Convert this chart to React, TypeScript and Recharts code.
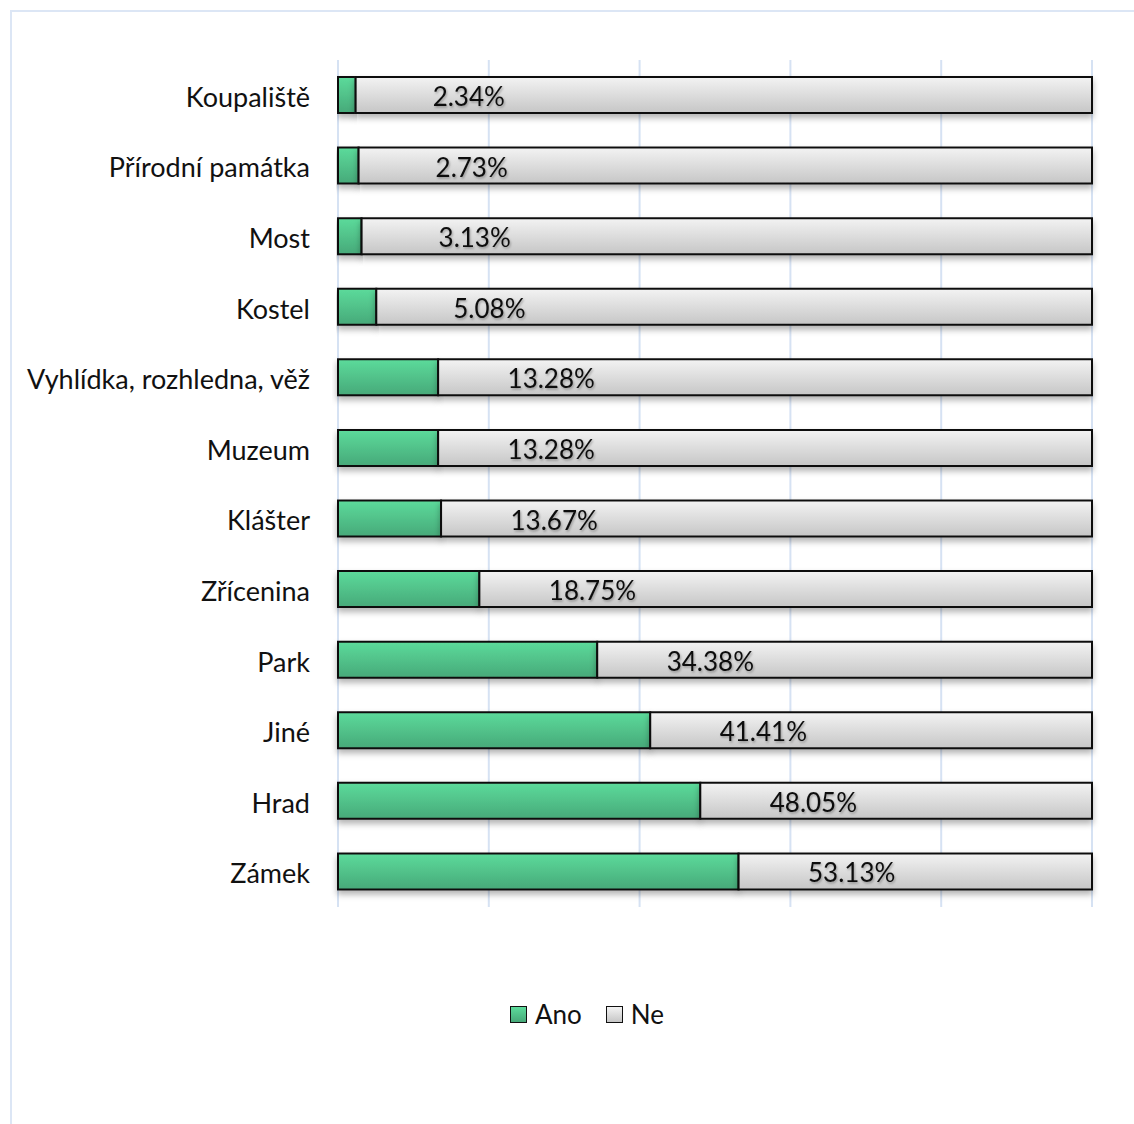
import { BarChart, Bar, XAxis, YAxis, CartesianGrid, LabelList } from 'recharts'

const categories = [
  'Koupaliště',
  'Přírodní památka',
  'Most',
  'Kostel',
  'Vyhlídka, rozhledna, věž',
  'Muzeum',
  'Klášter',
  'Zřícenina',
  'Park',
  'Jiné',
  'Hrad',
  'Zámek',
]
const ano = [2.34, 2.73, 3.13, 5.08, 13.28, 13.28, 13.67, 18.75, 34.38, 41.41, 48.05, 53.13]
const ne = [97.66, 97.27, 96.87, 94.92, 86.72, 86.72, 86.33, 81.25, 65.62, 58.59, 51.95, 46.87]
const xTicks = [0, 20, 40, 60, 80, 100]

const FONT = 'Lato, "Open Sans", sans-serif'

const chartData = categories.map((name, i) => ({ name, ano: ano[i], ne: ne[i] }))

// label sits a bit to the right of the green segment, like in the original
const PctLabel = (props: any) => {
  const { x, y, width, height, value } = props
  if (!value) return null
  const full = (width * 100) / value
  const cx = x + width + full * 0.15
  return (
    <text
      x={cx}
      y={y + height / 2 + 11}
      textAnchor="middle"
      fontSize={26}
      fontFamily={FONT}
      fill="#111"
      filter="url(#txtShadow)"
    >
      {value.toFixed(2)}%
    </text>
  )
}

const swatch = (bg: string) => (
  <span
    style={{
      width: 15,
      height: 15,
      border: '1.5px solid #111',
      background: bg,
      marginRight: 8,
    }}
  />
)

export default function App() {
  return (
    <div style={{ position: 'absolute', left: 0, top: 0, width: 1134, height: 1124, background: '#fff', overflow: 'hidden' }}>
      <div
        style={{
          position: 'absolute',
          left: 10,
          top: 10,
          width: 1200,
          height: 1200,
          borderLeft: '2px solid #dce6f5',
          borderTop: '2px solid #dce6f5',
        }}
      />
      <BarChart
        width={1134}
        height={1124}
        data={chartData}
        layout="vertical"
        margin={{ top: 60, right: 42, bottom: 217, left: 0 }}
        barSize={36}
        style={{ position: 'absolute', left: 0, top: 0 }}
      >
        <defs>
          <linearGradient id="gAno" x1="0" y1="0" x2="0" y2="1">
            <stop offset="0%" stopColor="#5cdb9b" />
            <stop offset="100%" stopColor="#47a979" />
          </linearGradient>
          <linearGradient id="gNe" x1="0" y1="0" x2="0" y2="1">
            <stop offset="0%" stopColor="#f3f3f3" />
            <stop offset="100%" stopColor="#c6c6c6" />
          </linearGradient>
          <filter id="barShadow" x="-5%" y="-30%" width="110%" height="180%">
            <feDropShadow dx="0" dy="4" stdDeviation="3" floodColor="#000" floodOpacity="0.3" />
          </filter>
          <filter id="txtShadow" x="-10%" y="-20%" width="130%" height="160%">
            <feDropShadow dx="1" dy="1.5" stdDeviation="1" floodColor="#000" floodOpacity="0.3" />
          </filter>
        </defs>
        <CartesianGrid horizontal={false} stroke="#d6e2f3" strokeWidth={2} />
        <XAxis type="number" domain={[0, 100]} ticks={xTicks} hide />
        <YAxis
          type="category"
          dataKey="name"
          width={338}
          axisLine={false}
          tickLine={false}
          tickSize={0}
          tickMargin={28}
          interval={0}
          tick={{ fontSize: 27, fontFamily: FONT, fill: '#111', dy: 2 }}
        />
        <Bar
          dataKey="ano"
          name="Ano"
          stackId="a"
          fill="url(#gAno)"
          stroke="#111"
          strokeWidth={2}
          filter="url(#barShadow)"
          isAnimationActive={false}
        >
          <LabelList dataKey="ano" content={<PctLabel />} />
        </Bar>
        <Bar
          dataKey="ne"
          name="Ne"
          stackId="a"
          fill="url(#gNe)"
          stroke="#111"
          strokeWidth={2}
          filter="url(#barShadow)"
          isAnimationActive={false}
        />
      </BarChart>
      <div
        style={{
          position: 'absolute',
          left: 0,
          top: 998,
          width: 1174,
          display: 'flex',
          justifyContent: 'center',
          alignItems: 'center',
          fontFamily: FONT,
          fontSize: 26,
          color: '#111',
          gap: 24,
        }}
      >
        <span style={{ display: 'flex', alignItems: 'center' }}>
          {swatch('linear-gradient(#5cdb9b, #47a979)')}
          Ano
        </span>
        <span style={{ display: 'flex', alignItems: 'center' }}>
          {swatch('linear-gradient(#f3f3f3, #c6c6c6)')}
          Ne
        </span>
      </div>
    </div>
  )
}
